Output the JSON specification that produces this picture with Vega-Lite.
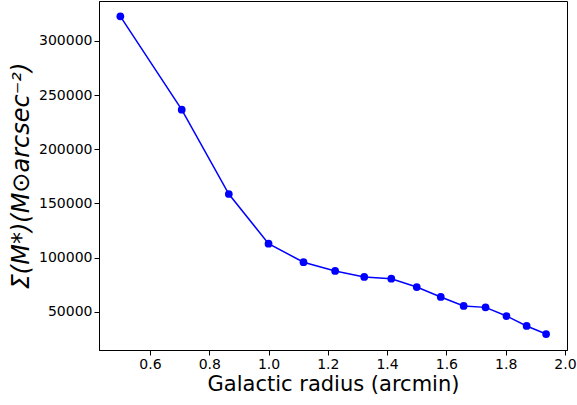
{
  "$schema": "https://vega.github.io/schema/vega-lite/v6.json",
  "width": 468,
  "height": 349,
  "autosize": {"type": "none"},
  "padding": {"left": 99, "top": 1, "right": 10, "bottom": 55},
  "background": "white",
  "config": {
    "view": {"stroke": "black", "strokeWidth": 1},
    "font": "DejaVu Sans",
    "axis": {
      "grid": false,
      "domainColor": "black",
      "tickColor": "black",
      "tickSize": 5,
      "labelFont": "DejaVu Sans",
      "labelFontSize": 14,
      "labelColor": "black",
      "titleFont": "DejaVu Sans",
      "titleFontWeight": "normal",
      "titleColor": "black"
    }
  },
  "data": {
    "values": [
      {"r": 0.5, "s": 322800},
      {"r": 0.7071, "s": 236600},
      {"r": 0.8660, "s": 158700},
      {"r": 1.0, "s": 112800},
      {"r": 1.1180, "s": 95700},
      {"r": 1.2247, "s": 87600},
      {"r": 1.3229, "s": 82100},
      {"r": 1.4142, "s": 80500},
      {"r": 1.5, "s": 72800},
      {"r": 1.5811, "s": 63600},
      {"r": 1.6583, "s": 55300},
      {"r": 1.7321, "s": 54000},
      {"r": 1.8028, "s": 46000},
      {"r": 1.8708, "s": 36800},
      {"r": 1.9365, "s": 29400}
    ]
  },
  "encoding": {
    "x": {
      "field": "r",
      "type": "quantitative",
      "scale": {"domain": [0.428, 2.007], "nice": false, "zero": false},
      "axis": {
        "title": "Galactic radius (arcmin)",
        "titleFontSize": 21,
        "titlePadding": 2,
        "values": [0.6, 0.8, 1.0, 1.2, 1.4, 1.6, 1.8, 2.0],
        "format": ".1f",
        "labelFlush": false
      }
    },
    "y": {
      "field": "s",
      "type": "quantitative",
      "scale": {"domain": [14630, 336940], "nice": false, "zero": false},
      "axis": {
        "title": "Σ(M*)(M⊙arcsec⁻²)",
        "titleFontSize": 24,
        "titleFontStyle": "italic",
        "titlePadding": 5,
        "values": [50000, 100000, 150000, 200000, 250000, 300000],
        "format": "d",
        "labelFlush": false
      }
    }
  },
  "layer": [
    {"mark": {"type": "line", "color": "#0000ff", "strokeWidth": 1.5}},
    {"mark": {"type": "point", "filled": true, "color": "#0000ff", "opacity": 1, "size": 60}}
  ]
}
